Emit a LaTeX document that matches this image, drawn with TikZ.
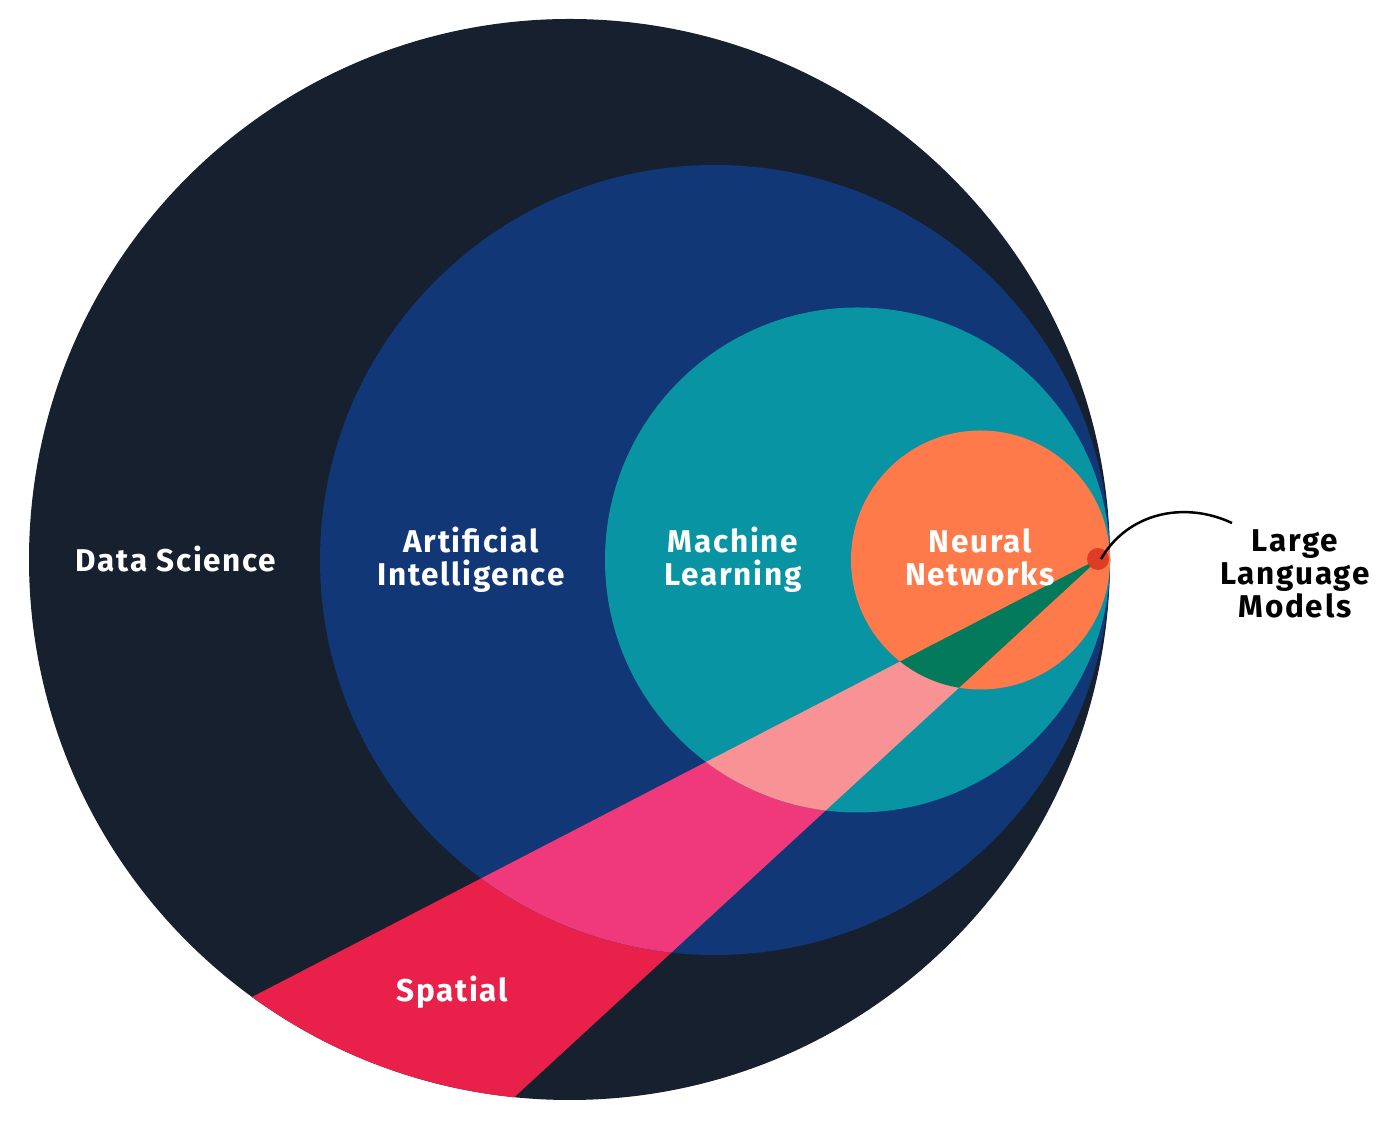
\documentclass[tikz,border=0pt]{standalone}
\usepackage{fontspec}
\setmainfont{Fira Sans}[LetterSpace=5.5]
\usetikzlibrary{positioning}
\definecolor{dscol}{HTML}{17202E}
\definecolor{aicol}{HTML}{113777}
\definecolor{mlcol}{HTML}{0894A3}
\definecolor{nncol}{HTML}{FF7A4A}
\definecolor{spds}{HTML}{E8204A}
\definecolor{spai}{HTML}{F0397A}
\definecolor{spml}{HTML}{F99294}
\definecolor{spnn}{HTML}{027A5B}
\definecolor{llmcol}{HTML}{DF3C25}
\newcommand{\spatialcut}{(apex) -- (-200,-105) -- (294,-174) -- cycle}
\begin{document}
\begin{tikzpicture}[x=1pt,y=1pt,
	lbl/.style={font=\bfseries\fontsize{31.5}{33}\selectfont,text=white,align=center},
	dark lbl/.style={lbl,text=black}]
	\useasboundingbox (0,0) rectangle (1400,1126);
	\coordinate (ds) at (569.5,566.5);
	\coordinate (ai) at (715,566);
	\coordinate (ml) at (857.5,566);
	\coordinate (nn) at (980.5,566);
	\coordinate (apex) at (1100,568);
	% nested circles, each with its own slice of the spatial wedge
	\foreach \c/\r/\base/\cut in {ds/540.5/dscol/spds,ai/395/aicol/spai,ml/252.5/mlcol/spml,nn/129.5/nncol/spnn}{
		\fill[\base] (\c) circle[radius=\r];
		\begin{scope}
			\clip (\c) circle[radius=\r];
			\fill[\cut] \spatialcut;
		\end{scope}
	}
	\node[circle,fill=llmcol,minimum size=22pt,inner sep=0pt] (llm) at (1098,567) {};
	\node[lbl] (dslabel) at (176,567) {Data Science};
	\node[lbl] (ailabel) at (471,566) {Artificial\\Intelligence};
	\node[lbl] (mllabel) at (733,566) {Machine\\Learning};
	\node[lbl] (nnlabel) at (980,569) {Neural\\Networks};
	\node[lbl] (splabel) at (452,134) {Spatial};
	\node[dark lbl] (llmlabel) at (1295,552) {Large\\Language\\Models};
	\coordinate (tip) at (1232,603);
	\draw[line width=2.5pt] ([xshift=3pt]llm.center) to[out=60,in=155] (tip);
\end{tikzpicture}
\end{document}
